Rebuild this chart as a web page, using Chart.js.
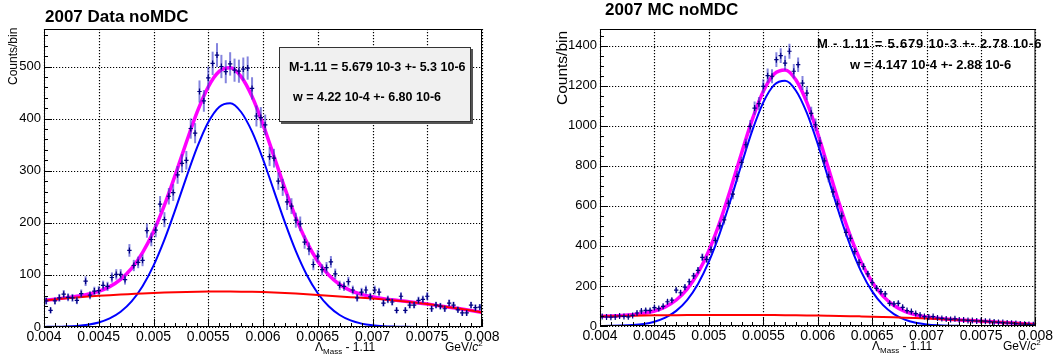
<!DOCTYPE html>
<html lang="en">
<head>
<meta charset="UTF-8">
<title>2007 noMDC Lambda mass fits</title>
<script src="https://cdn.jsdelivr.net/npm/chart.js"></script>
<style>
  body {
    margin: 0;
    background: #fff;
    font-family: 'Liberation Sans', Arial, sans-serif;
  }
  .wrap {
    position: relative;
    width: 1055px;
    height: 360px;
    overflow: hidden;
  }
  canvas {
    position: absolute;
    top: 0;
  }
  #padData { left: 0; }
  #padMC { left: 527px; }
  .t {
    position: absolute;
    line-height: 1;
    white-space: nowrap;
    color: #000;
  }
  .title { font-size: 17px; font-weight: bold; }
  .ylab {
    transform-origin: 0 0;
    transform: rotate(-90deg);
  }
  .xlab { font-size: 12px; }
  .sub { font-size: 8px; position: relative; top: 3px; }
  .sup { font-size: 8px; position: relative; top: -5px; }
  .stats { font-weight: bold; }
  .statbox {
    position: absolute;
    left: 279px;
    top: 47px;
    width: 192px;
    height: 75px;
    box-sizing: border-box;
    background: #f0f0f0;
    border: 1px solid #333;
    box-shadow: 2px 2px 0 #555;
  }
</style>
</head>
<body>
<div class="wrap">
  <canvas id="padData" width="527" height="360"></canvas>
  <canvas id="padMC" width="528" height="360"></canvas>

  <!-- left pad texts -->
  <div class="t title" style="left:45px; top:7.6px;">2007 Data noMDC</div>
  <div class="t ylab" style="left:6.8px; top:85px; font-size:12px;">Counts/bin</div>
  <div class="statbox"></div>
  <div class="t stats" style="left:289px; top:61px; font-size:12.5px;">M-1.11 = 5.679 10-3 +- 5.3 10-6</div>
  <div class="t stats" style="left:293px; top:91px; font-size:12.5px;">w = 4.22 10-4 +- 6.80 10-6</div>
  <div class="t xlab" style="left:315px; top:340.5px;">&Lambda;<span class="sub">Mass</span> - 1.11</div>
  <div class="t xlab" style="left:445px; top:340.5px;">GeV/<i>c</i><span class="sup">2</span></div>

  <!-- right pad texts -->
  <div class="t title" style="left:605px; top:0.6px;">2007 MC noMDC</div>
  <div class="t ylab" style="left:554.4px; top:105px; font-size:15.5px;">Counts/bin</div>
  <div class="t stats" style="left:817px; top:36.7px; font-size:13px; letter-spacing:0.8px;">M - 1.11 = 5.679 10-3 +- 2.78 10-6</div>
  <div class="t stats" style="left:850px; top:58.3px; font-size:13px;">w = 4.147 10-4 +- 2.88 10-6</div>
  <div class="t xlab" style="left:872px; top:339.8px;">&Lambda;<span class="sub">Mass</span> - 1.11</div>
  <div class="t xlab" style="left:1003px; top:339.8px;">GeV/<i>c</i><span class="sup">2</span></div>
</div>

<script>
// histogram binning (100 bins between 0.004 and 0.008)
const xMin = 0.004;
const xMax = 0.008;
const binWidth = 0.00004;

// counts per bin
const dataCounts = [
  50, 32, 50, 56, 63, 57, 56, 51, 64, 88,
  61, 69, 70, 80, 78, 95, 101, 101, 91, 147,
  118, 124, 128, 185, 168, 186, 236, 206, 251, 258,
  292, 314, 320, 381, 372, 452, 434, 478, 506, 522,
  500, 490, 505, 493, 491, 495, 497, 458, 405, 402,
  388, 327, 324, 280, 268, 240, 232, 205, 198, 163,
  150, 120, 136, 110, 114, 125, 102, 80, 78, 87,
  71, 56, 67, 71, 58, 71, 67, 46, 53, 48,
  32, 59, 32, 42, 42, 51, 53, 59, 35, 42,
  40, 35, 46, 42, 33, 27, 27, 42, 37, 38
];
const mcCounts = [
  47, 45, 44, 45, 50, 48, 46, 53, 65, 75,
  78, 78, 92, 87, 98, 121, 129, 179, 166, 194,
  221, 250, 278, 343, 333, 381, 427, 500, 530, 613,
  658, 747, 817, 905, 997, 1088, 1110, 1197, 1250, 1247,
  1330, 1350, 1313, 1372, 1272, 1305, 1213, 1163, 1062, 1005,
  913, 825, 745, 670, 610, 550, 467, 438, 372, 317,
  297, 260, 217, 188, 172, 160, 113, 110, 113, 93,
  77, 72, 62, 55, 47, 45, 47, 40, 38, 35,
  33, 36, 30, 30, 28, 27, 25, 26, 24, 22,
  20, 18, 17, 15, 14, 12, 10, 9, 8, 6
];

// fit curves, sampled every 0.0001
const curveX = [0.0040, 0.0041, 0.0042, 0.0043, 0.0044, 0.0045, 0.0046, 0.0047, 0.0048, 0.0049,
  0.0050, 0.0051, 0.0052, 0.0053, 0.0054, 0.0055, 0.0056, 0.0057, 0.0058, 0.0059,
  0.0060, 0.0061, 0.0062, 0.0063, 0.0064, 0.0065, 0.0066, 0.0067, 0.0068, 0.0069,
  0.0070, 0.0071, 0.0072, 0.0073, 0.0074, 0.0075, 0.0076, 0.0077, 0.0078, 0.0079, 0.0080];

const dataSignal = [0.2, 0.4, 0.9, 2.1, 4.4, 8.7, 16.4, 29.2, 49.1, 78.3,
  117.9, 167.8, 225.8, 287.3, 345.6, 393.0, 422.5, 429.5, 412.7, 374.9,
  322.0, 261.4, 200.7, 145.6, 99.9, 64.8, 39.7, 23.0, 12.6, 6.5,
  3.2, 1.5, 0.7, 0.3, 0.1, 0, 0, 0, 0, 0, 0];
const dataBkg = [51, 53, 55, 56.8, 58.4, 59.8, 61.1, 62.3, 63.4, 64.5,
  65.4, 66.2, 66.8, 67.3, 67.7, 68, 68.1, 68.1, 67.9, 67.5,
  67, 66.3, 65.4, 64.3, 63, 61.5, 60, 58.5, 57.2, 56,
  54.8, 53, 51, 49, 46.6, 44, 41, 38, 35, 31.6, 28];
const dataTotal = [51.2, 53.4, 55.9, 58.9, 62.8, 68.5, 77.5, 91.5, 112.5, 142.8,
  183.3, 234.0, 292.6, 354.6, 413.3, 461.0, 490.6, 497.6, 480.6, 442.4,
  389.0, 327.7, 266.1, 209.9, 162.9, 126.3, 99.7, 81.5, 69.8, 62.5,
  58.0, 54.5, 51.7, 49.3, 46.7, 44, 41, 38, 35, 31.6, 28];

const mcSignal = [0.3, 0.9, 2.1, 4.9, 10.5, 21.6, 41.5, 75.6, 129.7, 210,
  321, 462.6, 629.2, 807.6, 977.7, 1116.9, 1203.9, 1224.4, 1174.9, 1063.7,
  908.6, 732.3, 556.9, 399.6, 270.5, 172.7, 104.1, 59.2, 31.8, 16.1,
  7.7, 3.5, 1.5, 0.6, 0.2, 0.1, 0, 0, 0, 0, 0];
const mcBkg = [48, 49.3, 50.5, 51.5, 52.4, 53.2, 53.8, 54.3, 54.7, 55,
  55.2, 55.3, 55.3, 55.2, 55, 54.8, 54.5, 54.1, 53.6, 53,
  52.3, 51.4, 50.4, 49.3, 48, 46.6, 45, 43.3, 41.4, 39.4,
  37.2, 34.9, 32.4, 29.8, 27, 24.1, 21, 17.8, 14.5, 11, 7.4];
const mcTotal = [48.3, 50.2, 52.6, 56.4, 62.9, 74.8, 95.3, 129.9, 184.4, 265,
  376.2, 517.9, 684.5, 862.8, 1032.7, 1171.7, 1258.4, 1278.5, 1228.5, 1116.7,
  960.9, 783.7, 607.3, 448.9, 318.5, 219.3, 149.1, 102.5, 73.2, 55.5,
  44.9, 38.4, 33.9, 30.4, 27.2, 24.2, 21, 17.8, 14.5, 11, 7.4];

Chart.defaults.font.family = "'Liberation Sans', Arial, sans-serif";
Chart.defaults.color = '#000';

// ROOT-like frame: dotted grid, inward ticks, error-bar crosses
const rootPad = {
  id: 'rootPad',
  beforeDatasetsDraw(chart, args, opts) {
    const { ctx, chartArea: a, scales: { x, y } } = chart;
    ctx.save();
    ctx.strokeStyle = '#000';
    ctx.lineWidth = 1.2;
    ctx.setLineDash([1.2, 1.8]);
    ctx.beginPath();
    x.ticks.forEach(t => {
      const px = Math.round(x.getPixelForValue(t.value)) + 0.5;
      ctx.moveTo(px, a.top);
      ctx.lineTo(px, a.bottom);
    });
    y.ticks.forEach(t => {
      const py = Math.round(y.getPixelForValue(t.value)) + 0.5;
      ctx.moveTo(a.left, py);
      ctx.lineTo(a.right, py);
    });
    ctx.stroke();
    ctx.restore();
  },
  afterDatasetsDraw(chart, args, opts) {
    const { ctx, chartArea: a, scales: { x, y } } = chart;
    const counts = opts.counts;
    ctx.save();
    ctx.beginPath();
    ctx.rect(a.left, a.top, a.right - a.left, a.bottom - a.top);
    ctx.clip();
    counts.forEach((n, i) => {
      const cx = xMin + (i + 0.5) * binWidth;
      const px = x.getPixelForValue(cx);
      const py = y.getPixelForValue(n);
      const err = Math.sqrt(n);
      ctx.strokeStyle = 'rgba(50,50,200,0.6)';
      ctx.lineWidth = 2;
      ctx.beginPath();
      ctx.moveTo(px, y.getPixelForValue(n - err));
      ctx.lineTo(px, y.getPixelForValue(n + err));
      ctx.stroke();
      ctx.strokeStyle = '#000080';
      ctx.lineWidth = 1.2;
      ctx.beginPath();
      ctx.moveTo(x.getPixelForValue(cx - binWidth / 2), py);
      ctx.lineTo(x.getPixelForValue(cx + binWidth / 2), py);
      ctx.moveTo(px, py - 3);
      ctx.lineTo(px, py + 3);
      ctx.stroke();
    });
    ctx.restore();
  },
  afterDraw(chart, args, opts) {
    const { ctx, chartArea: a, scales: { x, y } } = chart;
    ctx.save();
    ctx.strokeStyle = '#000';
    ctx.lineWidth = 1;
    ctx.strokeRect(a.left + 0.5, a.top + 0.5, a.right - a.left - 1, a.bottom - a.top - 1);
    ctx.beginPath();
    const ny = Math.round(opts.yTop / opts.yMinor);
    const ym = Math.round(opts.yMajor / opts.yMinor);
    for (let k = 0; k <= ny; k++) {
      const py = Math.round(y.getPixelForValue(k * opts.yMinor)) + 0.5;
      if (py < a.top) break;
      ctx.moveTo(a.left, py);
      ctx.lineTo(a.left + (k % ym === 0 ? 8 : 4), py);
    }
    for (let k = 0; k <= 40; k++) {
      const px = Math.round(x.getPixelForValue(xMin + k * 0.0001)) + 0.5;
      ctx.moveTo(px, a.bottom);
      ctx.lineTo(px, a.bottom - (k % 5 === 0 ? 8 : 4));
    }
    ctx.stroke();
    ctx.restore();
  }
};

function makePad(id, p) {
  const curve = arr => curveX.map((cx, i) => ({ x: cx, y: arr[i] }));
  const line = (arr, color, w) => ({
    data: curve(arr),
    borderColor: color,
    borderWidth: w,
    showLine: true,
    pointRadius: 0,
    cubicInterpolationMode: 'monotone'
  });
  return new Chart(document.getElementById(id), {
    type: 'scatter',
    data: {
      // first dataset ends up on top
      datasets: [
        line(p.bkg, '#ff0000', 2),
        line(p.sig, '#0000ff', 2),
        line(p.total, '#ff00ff', 3.5)
      ]
    },
    options: {
      responsive: false,
      animation: false,
      events: [],
      layout: { padding: { top: 29, right: p.padRight, left: 0, bottom: 0 } },
      plugins: {
        legend: { display: false },
        tooltip: { enabled: false },
        rootPad: { counts: p.counts, yTop: p.yMax, yMajor: p.yStep, yMinor: p.yMinor }
      },
      scales: {
        x: {
          type: 'linear',
          min: xMin,
          max: xMax,
          grid: { display: false, drawTicks: false, tickLength: 0 },
          border: { display: false },
          afterFit: s => { s.height = p.xAxisHeight; },
          ticks: {
            stepSize: 0.0005,
            includeBounds: false,
            autoSkip: false,
            maxRotation: 0,
            padding: 2,
            font: { size: 14 },
            callback: v => String(+v.toFixed(4))
          }
        },
        y: {
          min: 0,
          max: p.yMax,
          grid: { display: false, drawTicks: false, tickLength: 0 },
          border: { display: false },
          afterFit: s => { s.width = p.yAxisWidth; },
          ticks: {
            stepSize: p.yStep,
            includeBounds: false,
            padding: 3,
            font: { size: 13 },
            callback: v => String(v)
          }
        }
      }
    },
    plugins: [rootPad]
  });
}

makePad('padData', {
  counts: dataCounts, sig: dataSignal, bkg: dataBkg, total: dataTotal,
  yMax: 572, yStep: 100, yMinor: 20,
  yAxisWidth: 44, xAxisHeight: 33, padRight: 45
});

makePad('padMC', {
  counts: mcCounts, sig: mcSignal, bkg: mcBkg, total: mcTotal,
  yMax: 1483, yStep: 200, yMinor: 50,
  yAxisWidth: 73, xAxisHeight: 34, padRight: 16
});
</script>
</body>
</html>
